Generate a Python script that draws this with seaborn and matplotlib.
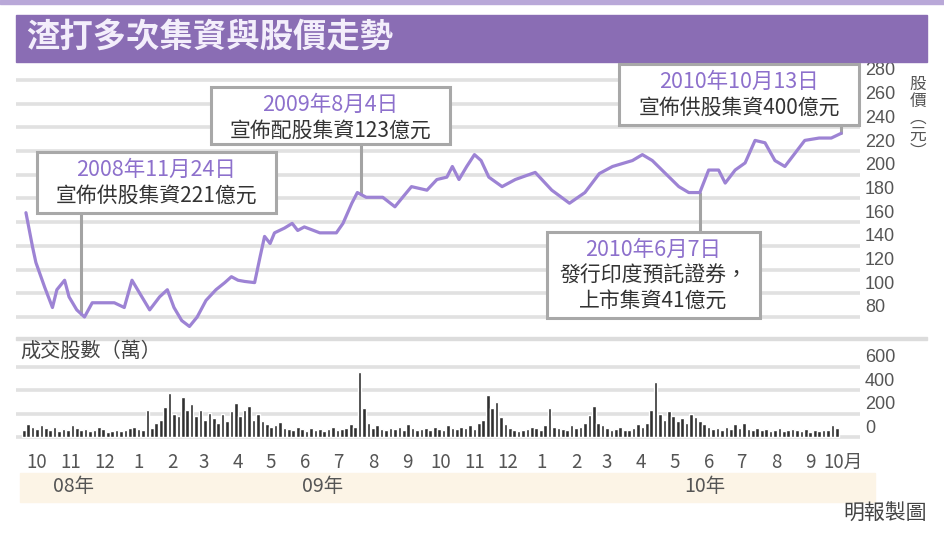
import numpy as np
import pandas as pd
import seaborn as sns
import matplotlib.pyplot as plt
from matplotlib.patches import Rectangle
from matplotlib.transforms import blended_transform_factory, offset_copy

sns.set_theme(style="white")
plt.rcParams['font.family'] = ['Noto Sans CJK TC', 'DejaVu Sans']

W, H = 944, 540

# 股價 (港元)
price_dates = [
	'2008-10-05', '2008-10-11', '2008-10-14', '2008-10-22', '2008-10-29', '2008-11-02',
	'2008-11-09', '2008-11-13', '2008-11-20', '2008-11-27', '2008-12-04', '2008-12-11',
	'2008-12-24', '2009-01-02', '2009-01-09', '2009-01-16', '2009-01-25', '2009-02-03',
	'2009-02-10', '2009-02-16', '2009-02-23', '2009-03-02', '2009-03-09', '2009-03-17',
	'2009-03-26', '2009-04-03', '2009-04-09', '2009-04-15', '2009-04-21', '2009-04-30',
	'2009-05-05', '2009-05-09', '2009-05-14', '2009-05-18', '2009-05-27', '2009-06-03',
	'2009-06-08', '2009-06-14', '2009-06-28', '2009-07-13', '2009-07-19', '2009-07-27',
	'2009-08-01', '2009-08-09', '2009-08-16', '2009-08-24', '2009-09-04', '2009-09-11',
	'2009-09-19', '2009-10-03', '2009-10-12', '2009-10-21', '2009-10-26', '2009-11-01',
	'2009-11-08', '2009-11-15', '2009-11-21', '2009-11-28', '2009-12-10', '2009-12-22',
	'2010-01-09', '2010-01-24', '2010-02-09', '2010-02-23', '2010-03-08', '2010-03-20',
	'2010-04-07', '2010-04-16', '2010-04-25', '2010-05-07', '2010-05-19', '2010-05-28',
	'2010-06-07', '2010-06-15', '2010-06-24', '2010-06-30', '2010-07-09', '2010-07-18',
	'2010-07-27', '2010-08-05', '2010-08-14', '2010-08-23', '2010-09-01', '2010-09-10',
	'2010-09-23', '2010-10-04', '2010-10-13']
price_values = [
	168, 139, 126, 105, 88, 103,
	111, 97, 86, 80, 92, 92,
	92, 88, 111, 100, 86, 97,
	103, 88, 77, 72, 80, 94,
	103, 109, 114, 111, 110, 109,
	131, 148, 142, 151, 155, 159,
	153, 156, 151, 151, 159, 176,
	185, 181, 181, 181, 173, 181,
	190, 187, 196, 198, 207, 196,
	207, 217, 212, 198, 190, 196,
	202, 187, 176, 185, 201, 207,
	212, 217, 212, 201, 190, 185,
	185, 204, 204, 193, 204, 210,
	229, 227, 212, 207, 218, 229,
	231, 231, 235]

# 成交股數 (萬), 每4日一點, 由 2008-10-03 起
vol_start = '2008-10-03'
vol_values = [
	60, 110, 90, 70, 100, 80, 60, 90,          # 08年10月
	50, 70, 60, 100, 80, 60, 70,               # 11月
	50, 60, 90, 70, 40, 50, 60, 50,            # 12月
	60, 80, 90, 70, 60, 230, 80, 120,          # 09年1月
	150, 260, 380, 200, 180, 340, 230,         # 2月
	280, 180, 230, 150, 210, 160, 120, 200,    # 3月
	140, 220, 290, 180, 230, 270, 150,         # 4月
	200, 140, 110, 90, 100, 130, 80, 70,       # 5月
	60, 90, 70, 50, 80, 60, 70,                # 6月
	50, 70, 90, 60, 70, 80, 110, 90,           # 7月
	560, 250, 120, 80, 100, 70, 60, 80,        # 8月
	70, 90, 60, 110, 80, 60, 70,               # 9月
	80, 60, 90, 70, 60, 100, 80, 70,           # 10月
	90, 80, 100, 70, 120, 150, 360,            # 11月
	250, 300, 170, 110, 80, 60, 50, 60,        # 12月
	70, 90, 80, 60, 100, 250, 90, 80,          # 10年1月
	70, 60, 100, 80, 90, 120, 190,             # 2月
	270, 120, 100, 80, 60, 70, 90, 60,         # 3月
	60, 80, 110, 90, 120, 230, 470,            # 4月
	200, 150, 220, 180, 140, 160, 120, 200,    # 5月
	170, 140, 110, 90, 70, 80, 60,             # 6月
	90, 70, 110, 80, 120, 70, 60, 80,          # 7月
	60, 70, 50, 60, 80, 50, 60, 70,            # 8月
	60, 50, 70, 40, 60, 50, 60,                # 9月
	60, 100, 80]                               # 10月

price_ticks = [80, 100, 120, 140, 160, 180, 200, 220, 240, 260, 280]
vol_ticks = [0, 200, 400, 600]
month_labels = ['10', '11', '12', '1', '2', '3', '4', '5', '6', '7', '8', '9',
	'10', '11', '12', '1', '2', '3', '4', '5', '6', '7', '8', '9', '10月']
year_labels = ['08年', '09年', '10年']

event_dates = ['2008-11-24', '2009-08-04', '2010-06-07', '2010-10-13']
event_titles = ['2008年11月24日', '2009年8月4日', '2010年6月7日', '2010年10月13日']
event_texts = ['宣佈供股集資221億元', '宣佈配股集資123億元',
	'發行印度預託證券，\n上市集資41億元', '宣佈供股集資400億元']

# 版面 (像素)
event_boxes = [(37, 152, 276, 213), (211, 87, 450, 144), (547, 232, 760, 318), (619, 64, 859, 125)]
year_pos = ['2008-11-17', '2009-07-01', '2010-06-12']

PURPLE = '#8a6db4'
LINE = '#9d83d4'
GRID = '#e1e1e1'
TXT = '#555555'


def fx(x):
	return x / W


def fy(y):
	return 1 - y / H


def pixel_axes(fig, x0, y0, x1, y1):
	return fig.add_axes([fx(x0), fy(y1), (x1 - x0) / W, (y1 - y0) / H])


def fig_rect(fig, x0, y0, x1, y1, **kw):
	fig.patches.append(Rectangle((fx(x0), fy(y1)), (x1 - x0) / W, (y1 - y0) / H,
		transform=fig.transFigure, **kw))


def main():
	df = pd.DataFrame({'date': pd.to_datetime(price_dates), 'price': price_values})
	vol = pd.DataFrame({
		'date': pd.date_range(vol_start, periods=len(vol_values), freq='4D'),
		'volume': vol_values})

	fig = plt.figure(figsize=(W / 100, H / 100), dpi=100)
	fig.patch.set_facecolor('white')

	# 頂部色帶及標題
	fig_rect(fig, 0, 0, W, 4, color='#b9a8d8', zorder=-1)
	fig_rect(fig, 16, 15, 927, 62, color=PURPLE, zorder=1)
	fig.text(fx(26), fy(38), '渣打多次集資與股價走勢', color='#f3eefb', fontsize=24,
		fontweight='bold', ha='left', va='center')

	x_left = pd.Timestamp('2008-09-26')
	x_right = pd.Timestamp('2010-10-30')

	# 股價
	ax = pixel_axes(fig, 16, 68, 860, 335)
	ax.set_ylim(64.8, 290.1)
	ax.set_xlim(x_left, x_right)
	for v in price_ticks:
		ax.axhline(v, color=GRID, lw=2.6, zorder=0)
	sns.lineplot(data=df, x='date', y='price', ax=ax, color=LINE, lw=2.3, zorder=3)
	ax.set(xlabel=None, ylabel=None, xticks=[], yticks=[])
	sns.despine(ax=ax, left=True, bottom=True)
	lab_tr = offset_copy(blended_transform_factory(ax.transAxes, ax.transData),
		fig=fig, x=5, y=9, units='dots')
	for v in price_ticks:
		ax.text(1.0, v, str(v), transform=lab_tr, ha='left', va='center',
			fontsize=13, color=TXT, family='Liberation Sans', clip_on=False)
	fig.text(fx(918), fy(118), '股\n價\n︵\n元\n︶', ha='center', va='center',
		fontsize=12, color=TXT, linespacing=1.0)

	# 事件方框
	ev_x = pd.to_datetime(event_dates)
	ev_y = np.interp(ev_x.values.astype('int64'), df['date'].values.astype('int64'), df['price'])
	inv = ax.transData.inverted()
	for i in range(len(event_dates)):
		x0, y0, x1, y1 = event_boxes[i]
		point_px = H - ax.transData.transform((0, ev_y[i]))[1]
		edge = y1 if point_px > y1 else y0
		edge_val = inv.transform((0, H - edge))[1]
		ax.plot([ev_x[i], ev_x[i]], [ev_y[i], edge_val], color='#a3a3a3', lw=2.2,
			zorder=2, clip_on=False)
		fig_rect(fig, x0, y0, x1, y1, facecolor='white', edgecolor='#a8a8a8', lw=2.2, zorder=2)
		cx = fx((x0 + x1) / 2)
		fig.text(cx, fy(y0 + 18), event_titles[i], color='#8d70cc', fontsize=15.5,
			ha='center', va='center', zorder=4)
		for j, t in enumerate(event_texts[i].split('\n')):
			fig.text(cx, fy(y0 + 44 + 26 * j), t, color='#333333', fontsize=15,
				ha='center', va='center', zorder=4)

	# 分隔線
	fig_rect(fig, 16, 337, 927, 340, color='#dcdcdc', zorder=1)

	# 成交量
	ax2 = pixel_axes(fig, 16, 342, 860, 441)
	ax2.set_ylim(-34, 814)
	for v in vol_ticks:
		ax2.axhline(v, color=GRID, lw=2.6, zorder=0)
	ax2.bar(vol['date'], vol['volume'], width=3.3, color='#303030', zorder=2)
	ax2.set_xlim(x_left, x_right)
	month_ticks = pd.date_range('2008-10-01', '2010-10-01', freq='MS') + pd.Timedelta(days=14)
	ax2.set_xticks(month_ticks)
	ax2.set_xticklabels(month_labels)
	ax2.set_yticks([])
	ax2.tick_params(axis='x', length=0, pad=8, labelsize=13.5, colors=TXT)
	sns.despine(ax=ax2, left=True, bottom=True)
	vtr = offset_copy(blended_transform_factory(ax2.transAxes, ax2.transData),
		fig=fig, x=5, y=9, units='dots')
	for v in vol_ticks:
		ax2.text(1.0, v, str(v), transform=vtr, ha='left', va='center',
			fontsize=13, color=TXT, family='Liberation Sans', clip_on=False)
	fig.text(fx(20), fy(351), '成交股數（萬）', ha='left', va='center', fontsize=14.5, color='#444444')

	# 年份帶
	fig_rect(fig, 20, 473, 875, 502, color='#fcf4e6', zorder=-1)
	ytr = blended_transform_factory(ax2.transData, fig.transFigure)
	for pos, lab in zip(year_pos, year_labels):
		ax2.text(pd.Timestamp(pos), fy(487), lab, transform=ytr, ha='center', va='center',
			fontsize=14, color=TXT, clip_on=False)

	fig.text(fx(927), fy(514), '明報製圖', ha='right', va='center', fontsize=15, color='#444444')

	fig.savefig('out.png', dpi=100)


if __name__ == "__main__":
	main()
